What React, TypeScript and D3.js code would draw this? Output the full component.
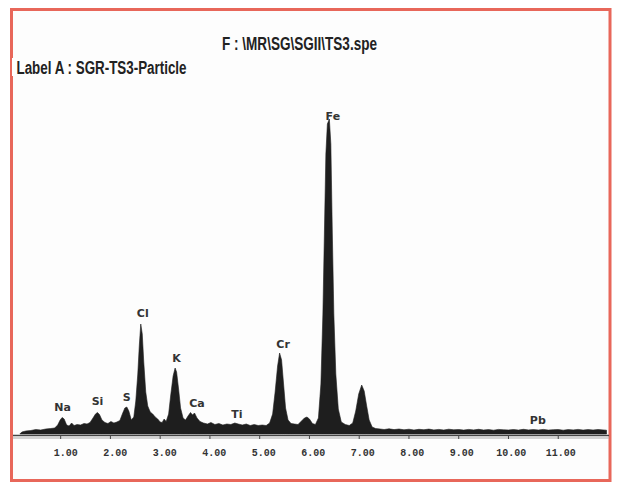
import React from 'react';
import * as d3 from 'd3';

const energies = [
  0.18, 0.22, 0.3, 0.4, 0.5, 0.6, 0.7, 0.8, 0.88, 0.94, 0.99, 1.03, 1.07, 1.12, 1.17, 1.22, 1.27, 1.33, 1.4, 1.47,
  1.53, 1.59, 1.65, 1.7, 1.74, 1.78, 1.83, 1.89, 1.95, 2.01, 2.07, 2.13, 2.19, 2.24, 2.29, 2.33, 2.37, 2.42, 2.47, 2.51,
  2.55, 2.58, 2.61, 2.64, 2.67, 2.71, 2.75, 2.8, 2.85, 2.9, 2.95, 3.0, 3.04, 3.08, 3.12, 3.17, 3.21, 3.26, 3.3, 3.33,
  3.37, 3.41, 3.46, 3.51, 3.56, 3.61, 3.65, 3.69, 3.74, 3.8, 3.87, 3.95, 4.02, 4.1, 4.18, 4.26, 4.34, 4.42, 4.5, 4.57,
  4.65, 4.73, 4.81, 4.89, 4.97, 5.05, 5.13, 5.2, 5.26, 5.31, 5.36, 5.4, 5.44, 5.48, 5.52, 5.57, 5.63, 5.7, 5.77, 5.84,
  5.9, 5.95, 6.0, 6.06, 6.12, 6.18, 6.23, 6.27, 6.3, 6.33, 6.36, 6.4, 6.43, 6.46, 6.49, 6.53, 6.58, 6.64, 6.72, 6.8,
  6.87, 6.93, 6.99, 7.05, 7.1, 7.15, 7.2, 7.26, 7.33, 7.42, 7.5, 7.6, 7.7, 7.8, 7.9, 8.0, 8.1, 8.2, 8.3, 8.4,
  8.5, 8.6, 8.7, 8.8, 8.9, 9.0, 9.1, 9.2, 9.3, 9.4, 9.5, 9.6, 9.7, 9.8, 9.9, 10.0, 10.1, 10.2, 10.3, 10.4,
  10.5, 10.6, 10.7, 10.8, 10.9, 11.0, 11.1, 11.2, 11.3, 11.4, 11.5, 11.6, 11.7, 11.8, 11.9, 11.97,
];

const counts = [
  0, 20, 30, 35, 45, 40, 50, 55, 60, 90, 140, 165, 150, 90, 80, 110, 85, 95, 90, 105,
  100, 115, 160, 200, 215, 195, 140, 115, 105, 125, 110, 120, 135, 200, 260, 270, 230, 140, 170, 330,
  600, 880, 1100, 1000, 720, 420, 280, 220, 200, 170, 150, 120, 115, 150, 125, 200, 380, 580, 660, 620,
  450, 260, 160, 140, 180, 215, 190, 210, 160, 125, 110, 100, 115, 95, 105, 90, 100, 95, 110, 100,
  90, 100, 85, 95, 85, 90, 85, 110, 200, 420, 680, 810, 740, 500, 260, 140, 105, 100, 95, 130,
  160, 170, 150, 105, 95, 160, 500, 1200, 2000, 2800, 3100, 3150, 2900, 2000, 1200, 600, 250, 120, 95, 85,
  110, 230, 400, 490, 430, 280, 140, 70, 55, 50, 45, 52, 44, 50, 42, 48, 40, 47, 43, 49,
  41, 46, 40, 48, 42, 45, 39, 46, 41, 47, 40, 44, 38, 46, 42, 40, 45, 39, 47, 41,
  44, 40, 46, 39, 43, 45, 38, 44, 41, 46, 39, 44, 40, 45, 41, 38,
];

const tickValues = [1, 2, 3, 4, 5, 6, 7, 8, 9, 10, 11];
const tickLabels = ['1.00', '2.00', '3.00', '4.00', '5.00', '6.00', '7.00', '8.00', '9.00', '10.00', '11.00'];

const peakNames = ['Na', 'Si', 'S', 'Cl', 'K', 'Ca', 'Ti', 'Cr', 'Fe', 'Pb'];
const peakLabelEnergies = [1.04, 1.74, 2.33, 2.65, 3.33, 3.74, 4.54, 5.47, 6.47, 10.59];
const peakLabelCounts = [230, 290, 330, 1170, 720, 270, 160, 860, 3140, 100];

const titleText = 'F : \\MR\\SG\\SGII\\TS3.spe';
const labelText = 'Label A : SGR-TS3-Particle';

export default function App() {
  const W = 617;
  const H = 482;
  const x = d3.scaleLinear().domain([0, 12]).range([10.9, 608.0]);
  const y = d3.scaleLinear().domain([0, 3200]).range([434, 114]);

  const data = energies.map((e, i) => ({ e, c: counts[i] }));
  const area = d3
    .area<{ e: number; c: number }>()
    .x((d) => x(d.e))
    .y0(y(0))
    .y1((d) => y(d.c))
    .curve(d3.curveLinear);

  const headFont = "'Liberation Sans', Arial, sans-serif";

  return (
    <svg
      width={W}
      height={H}
      style={{ position: 'absolute', left: 0, top: 0, background: '#ffffff' }}
    >
      <rect x={11.5} y={9.5} width={598.5} height={471} fill="#fdfdfd" stroke="#e8675a" strokeWidth={3} />
      <text
        x={222}
        y={50}
        textLength={155}
        lengthAdjust="spacingAndGlyphs"
        fontFamily={headFont}
        fontWeight="bold"
        fontSize={17.5}
        fill="#222"
      >
        {titleText}
      </text>
      <rect x={12} y={58} width={5} height={18} fill="#ffffff" />
      <text
        x={16.5}
        y={74}
        textLength={170}
        lengthAdjust="spacingAndGlyphs"
        fontFamily={headFont}
        fontWeight="bold"
        fontSize={17.5}
        fill="#222"
      >
        {labelText}
      </text>

      <path d={area(data) || ''} fill="#1e1e1e" stroke="#1e1e1e" strokeWidth={0.6} strokeLinejoin="round" />

      <line x1={13} x2={609} y1={435.5} y2={435.5} stroke="#444" strokeWidth={1.3} />
      <line x1={13} x2={609} y1={438} y2={438} stroke="#aaa" strokeWidth={1.2} />
      {tickValues.map((t, i) => (
        <g key={t}>
          <line x1={x(t)} x2={x(t)} y1={435} y2={439} stroke="#444" strokeWidth={1} />
          <text
            x={x(t) + 5 - 0.25 * i}
            y={456}
            textAnchor="middle"
            fontFamily="'Liberation Mono', 'DejaVu Sans Mono', monospace"
            fontWeight="bold"
            fontSize={10}
            fill="#333"
          >
            {tickLabels[i]}
          </text>
        </g>
      ))}

      {peakNames.map((n, i) => (
        <text
          key={n}
          x={x(peakLabelEnergies[i])}
          y={y(peakLabelCounts[i])}
          textAnchor="middle"
          fontFamily="'DejaVu Sans', sans-serif"
          fontWeight="bold"
          fontSize={11}
          fill="#333"
        >
          {n}
        </text>
      ))}
    </svg>
  );
}
